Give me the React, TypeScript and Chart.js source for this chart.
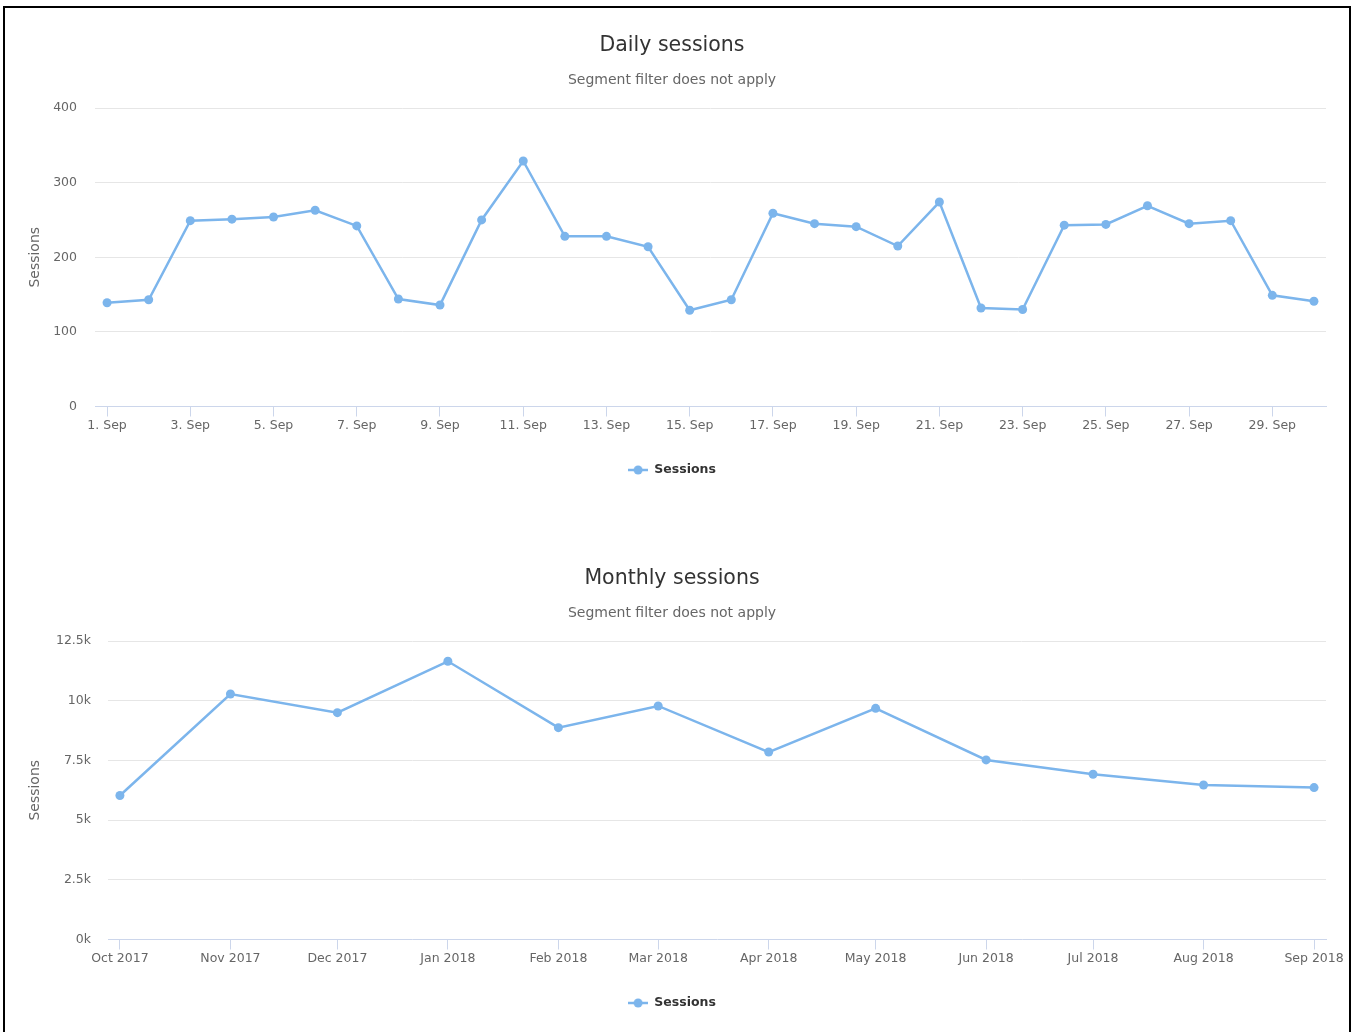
import React, { useEffect, useRef } from 'react';
import { Chart, registerables } from 'chart.js';

Chart.register(...registerables);
Chart.defaults.font.family = '"DejaVu Sans", Verdana, sans-serif';

// ---------- Daily data ----------
const dailyDays = [1, 2, 3, 4, 5, 6, 7, 8, 9, 10, 11, 12, 13, 14, 15, 16, 17, 18, 19, 20, 21, 22, 23, 24, 25, 26, 27, 28, 29, 30];
const dailySessions = [139, 143, 249, 251, 254, 263, 242, 144, 136, 250, 329, 228, 228, 214, 129, 143, 259, 245, 241, 215, 274, 132, 130, 243, 244, 269, 245, 249, 149, 141];
const dailyTickLabels = ['1. Sep', '3. Sep', '5. Sep', '7. Sep', '9. Sep', '11. Sep', '13. Sep', '15. Sep', '17. Sep', '19. Sep', '21. Sep', '23. Sep', '25. Sep', '27. Sep', '29. Sep'];
const dailyYTicks = [0, 100, 200, 300, 400];

// ---------- Monthly data ----------
const monthlyDates = ['2017-10-01', '2017-11-01', '2017-12-01', '2018-01-01', '2018-02-01', '2018-03-01', '2018-04-01', '2018-05-01', '2018-06-01', '2018-07-01', '2018-08-01', '2018-09-01'];
const monthlyLabels = ['Oct 2017', 'Nov 2017', 'Dec 2017', 'Jan 2018', 'Feb 2018', 'Mar 2018', 'Apr 2018', 'May 2018', 'Jun 2018', 'Jul 2018', 'Aug 2018', 'Sep 2018'];
const monthlySessions = [6030, 10280, 9500, 11650, 8870, 9780, 7850, 9680, 7520, 6920, 6470, 6360];
const monthlyYTicks = [0, 2500, 5000, 7500, 10000, 12500];

const seriesName = 'Sessions';
const subtitleText = 'Segment filter does not apply';

const BLUE = '#7cb5ec';
const CANVAS_W = 1344;
const CANVAS_H = 533;

function makeLegendMarker(): HTMLCanvasElement {
  const c = document.createElement('canvas');
  c.width = 20;
  c.height = 10;
  const ctx = c.getContext('2d')!;
  ctx.strokeStyle = BLUE;
  ctx.lineWidth = 2.5;
  ctx.beginPath();
  ctx.moveTo(0, 5);
  ctx.lineTo(20, 5);
  ctx.stroke();
  ctx.fillStyle = BLUE;
  ctx.beginPath();
  ctx.arc(10, 5, 4.5, 0, Math.PI * 2);
  ctx.fill();
  return c;
}

interface Cfg {
  title: string;
  points: { x: number; y: number }[];
  xMin: number;
  xMax: number;
  xTicks: number[];
  xLabels: string[];
  yTicks: number[];
  yFmt: (v: number) => string;
  yWidth: number;
  yPad: number;
}

function buildConfig(cfg: Cfg): any {
  const yMax = cfg.yTicks[cfg.yTicks.length - 1];
  const yStep = cfg.yTicks[1] - cfg.yTicks[0];
  return {
    type: 'line',
    data: {
      datasets: [
        {
          label: seriesName,
          data: cfg.points,
          borderColor: BLUE,
          backgroundColor: BLUE,
          borderWidth: 2.5,
          pointRadius: 4.5,
          pointHoverRadius: 5.5,
          pointBorderWidth: 0,
          pointBackgroundColor: BLUE,
          tension: 0,
          fill: false,
        },
      ],
    },
    options: {
      animation: false,
      responsive: false,
      maintainAspectRatio: false,
      layout: { padding: { left: 0, right: 10, top: 0, bottom: 54.75 } },
      plugins: {
        title: {
          display: true,
          text: cfg.title,
          color: '#333333',
          font: { size: 20.5, weight: 'normal' },
          padding: { top: 25.2, bottom: 0 },
        },
        subtitle: {
          display: true,
          text: subtitleText,
          color: '#666666',
          font: { size: 14, weight: 'normal' },
          padding: { top: 14.3, bottom: 19.1 },
        },
        legend: {
          display: true,
          position: 'bottom',
          labels: {
            usePointStyle: true,
            pointStyle: makeLegendMarker(),
            pointStyleWidth: 20,
            color: '#333333',
            font: { size: 12.5, weight: 'bold' },
            padding: 10,
          },
        },
        tooltip: { enabled: true },
      },
      scales: {
        x: {
          type: 'linear',
          min: cfg.xMin,
          max: cfg.xMax,
          bounds: 'data',
          afterBuildTicks: (scale: any) => {
            scale.ticks = cfg.xTicks.map((v) => ({ value: v }));
          },
          afterFit: (scale: any) => {
            scale.height = 47.25;
            scale.paddingLeft = 0;
            scale.paddingRight = 23;
          },
          ticks: {
            autoSkip: false,
            maxRotation: 0,
            minRotation: 0,
            padding: 2,
            color: '#666666',
            font: { size: 12.5 },
            callback: (_v: any, i: number) => cfg.xLabels[i],
          },
          grid: {
            display: true,
            drawOnChartArea: false,
            drawTicks: true,
            tickLength: 10,
            color: '#ccd6eb',
            lineWidth: 1,
          },
          border: { display: true, color: '#ccd6eb', width: 1 },
        },
        y: {
          type: 'linear',
          min: 0,
          max: yMax,
          afterFit: (scale: any) => {
            scale.width = cfg.yWidth;
          },
          ticks: {
            stepSize: yStep,
            padding: cfg.yPad,
            color: '#666666',
            font: { size: 12.5 },
            callback: (v: any) => cfg.yFmt(Number(v)),
          },
          grid: {
            drawTicks: false,
            color: (ctx: any) => (ctx.tick && ctx.tick.value === 0 ? 'rgba(0,0,0,0)' : '#e6e6e6'),
            lineWidth: 1,
          },
          border: { display: false },
          title: {
            display: true,
            text: seriesName,
            color: '#666666',
            font: { size: 14, weight: 'normal' },
            padding: { top: 21.6, bottom: 0 },
          },
        },
      },
    },
  };
}

function LineChart({ cfg }: { cfg: Cfg }) {
  const ref = useRef<HTMLCanvasElement | null>(null);
  useEffect(() => {
    if (!ref.current) return;
    const chart = new Chart(ref.current, buildConfig(cfg));
    return () => chart.destroy();
  }, [cfg]);
  return (
    <div style={{ width: CANVAS_W, height: CANVAS_H }}>
      <canvas ref={ref} width={CANVAS_W} height={CANVAS_H} style={{ display: 'block', width: CANVAS_W, height: CANVAS_H }} />
    </div>
  );
}

const dailyRange = dailyDays[dailyDays.length - 1] - dailyDays[0];
const dailyCfg: Cfg = {
  title: 'Daily sessions',
  points: dailyDays.map((d, i) => ({ x: d, y: dailySessions[i] })),
  xMin: dailyDays[0] - dailyRange * 0.01,
  xMax: dailyDays[dailyDays.length - 1] + dailyRange * 0.01,
  xTicks: dailyTickLabels.map((l) => parseInt(l, 10)),
  xLabels: dailyTickLabels,
  yTicks: dailyYTicks,
  yFmt: (v) => String(v),
  yWidth: 90,
  yPad: 18,
};

const DAY = 86400000;
const monthX = monthlyDates.map((d) => (Date.parse(d) - Date.parse(monthlyDates[0])) / DAY);
const monthlyRange = monthX[monthX.length - 1] - monthX[0];
const monthlyCfg: Cfg = {
  title: 'Monthly sessions',
  points: monthX.map((x, i) => ({ x, y: monthlySessions[i] })),
  xMin: monthX[0] - monthlyRange * 0.01,
  xMax: monthX[monthX.length - 1] + monthlyRange * 0.01,
  xTicks: monthX,
  xLabels: monthlyLabels,
  yTicks: monthlyYTicks,
  yFmt: (v) => `${v / 1000}k`,
  yWidth: 103,
  yPad: 17,
};

export default function App() {
  return (
    <div
      style={{
        position: 'absolute',
        left: 3,
        top: 6,
        width: CANVAS_W,
        height: CANVAS_H * 2,
        border: '2px solid #000',
        background: '#fff',
        overflow: 'hidden',
      }}
    >
      <LineChart cfg={dailyCfg} />
      <LineChart cfg={monthlyCfg} />
    </div>
  );
}
